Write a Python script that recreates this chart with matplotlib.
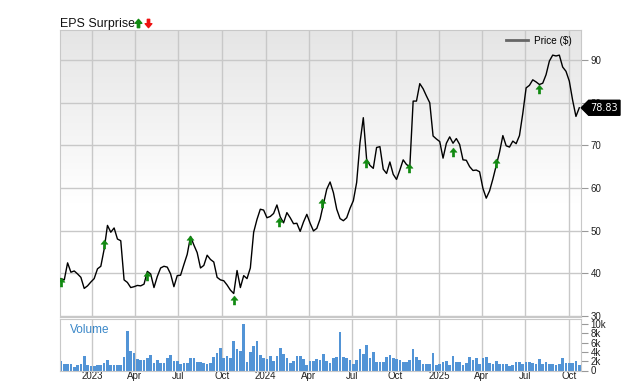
import numpy as np
import pandas as pd
import matplotlib
matplotlib.use('Agg')
import matplotlib.pyplot as plt
from matplotlib.path import Path
from matplotlib.patches import Polygon
from matplotlib.lines import Line2D
from matplotlib.transforms import IdentityTransform

plt.rcParams['font.family'] = ['Liberation Sans', 'DejaVu Sans']

# ---------------- data ----------------
start_date = '2022-10-27'
price = [38.7, 38.4, 42.4, 40.2, 40.5, 39.8, 39.0, 36.4, 37.0, 37.9,
         38.7, 41.0, 41.6, 45.6, 51.2, 49.6, 50.6, 48.0, 47.6, 38.4,
         37.8, 36.6, 36.8, 37.1, 37.0, 37.4, 40.4, 39.8, 36.6, 39.2,
         41.2, 41.6, 41.4, 39.8, 36.8, 39.4, 39.5, 42.0, 44.4, 48.6,
         46.6, 44.8, 41.2, 41.8, 44.2, 43.2, 42.6, 39.0, 38.4, 38.2,
         37.2, 36.0, 35.2, 40.6, 36.6, 39.4, 38.7, 41.2, 49.6, 52.6,
         55.0, 54.8, 53.0, 53.3, 54.0, 56.0, 53.2, 51.8, 54.2, 53.0,
         51.6, 51.7, 49.8, 52.0, 53.8, 51.7, 49.9, 50.5, 52.7, 56.2,
         59.7, 61.4, 58.9, 55.0, 52.8, 52.3, 53.0, 55.2, 57.0, 61.3,
         70.6, 76.5, 66.7, 65.3, 64.6, 69.5, 69.7, 64.4, 63.4, 66.1,
         63.2, 62.0, 64.2, 66.6, 65.5, 65.0, 80.4, 80.4, 84.5, 83.3,
         81.6, 80.0, 72.2, 71.5, 70.9, 67.0, 70.5, 72.0, 70.5, 71.6,
         70.2, 66.6, 66.5, 65.0, 64.1, 64.2, 63.8, 59.9, 57.6, 59.3,
         62.1, 65.2, 68.4, 72.3, 69.9, 69.6, 71.0, 70.4, 72.3, 77.5,
         83.5, 84.1, 85.4, 84.9, 84.3, 84.6, 86.6, 89.8, 91.2, 91.0,
         91.2, 88.4, 87.4, 85.1, 80.6, 76.8, 78.83]
volume_k = [2.0, 1.4, 1.5, 1.5, 0.65, 1.15, 1.4, 3.2, 1.15, 0.9,
            0.9, 1.2, 1.2, 1.65, 2.3, 1.15, 1.15, 1.15, 1.15, 3.0,
            8.6, 4.3, 3.75, 2.45, 2.3, 2.3, 2.8, 3.3, 1.65, 2.2,
            1.6, 1.6, 2.65, 3.4, 2.1, 2.1, 1.3, 1.6, 1.65, 2.65,
            2.8, 1.9, 1.9, 1.7, 1.5, 1.7, 3.0, 3.75, 4.9, 2.65,
            3.15, 2.65, 6.3, 4.6, 4.1, 10.0, 1.9, 4.0, 5.3, 6.4,
            3.3, 2.65, 2.45, 3.15, 2.0, 3.15, 4.8, 3.5, 2.6, 1.7,
            2.0, 3.15, 3.15, 2.45, 1.15, 2.1, 2.1, 2.45, 2.2, 3.5,
            1.95, 1.6, 2.6, 3.0, 8.35, 2.95, 2.6, 2.25, 1.35, 2.3,
            4.6, 3.65, 5.6, 2.6, 4.0, 1.9, 1.9, 1.9, 2.9, 3.3,
            2.6, 2.45, 2.25, 1.75, 1.9, 2.3, 4.6, 2.9, 2.25, 1.5,
            1.5, 1.45, 3.75, 1.2, 1.35, 1.75, 2.1, 1.2, 3.1, 1.75,
            1.75, 1.15, 1.65, 3.0, 2.3, 2.6, 1.35, 2.75, 3.0, 1.6,
            1.45, 1.95, 1.45, 1.45, 1.45, 1.0, 1.15, 1.9, 1.9, 1.45,
            1.9, 1.8, 1.6, 1.45, 2.45, 1.5, 1.8, 1.5, 1.5, 1.2,
            1.3, 2.6, 1.6, 1.6, 1.6, 1.95, 1.15]
earn_dates = ['2022-10-27', '2023-01-25', '2023-04-26', '2023-07-26',
              '2023-10-26', '2024-01-30', '2024-04-30', '2024-07-30',
              '2024-10-30', '2025-01-29', '2025-04-30', '2025-07-30']
earn_levels = [37.9, 46.8, 39.4, 47.7, 33.6, 52.1, 56.5, 65.9, 64.6, 68.5, 65.9, 83.2]
tick_dates = ['2023-01-01', '2023-04-01', '2023-07-01', '2023-10-01',
              '2024-01-01', '2024-04-01', '2024-07-01', '2024-10-01',
              '2025-01-01', '2025-04-01', '2025-07-01', '2025-10-01']
tick_labels = ['2023', 'Apr', 'Jul', 'Oct', '2024', 'Apr', 'Jul', 'Oct',
               '2025', 'Apr', 'Jul', 'Oct']
price_ticks = [30, 40, 50, 60, 70, 80, 90]
vol_ticks = [0, 2, 4, 6, 8, 10]
vol_tick_labels = ['0', '2k', '4k', '6k', '8k', '10k']
last_price = 78.83
x_start, x_end = '2022-10-25', '2025-10-26'

# ---------------- layout ----------------
dates = pd.date_range(start_date, periods=len(price), freq='7D')
W, H = 640, 382
fig = plt.figure(figsize=(W / 100, H / 100), dpi=100)
L, R = 60, 580.7
pt, pb = 30, 316.5
vt, vb = 318.5, 370.5


def rect(top, bottom):
    return [L / W, 1 - bottom / H, (R - L) / W, (bottom - top) / H]


grid_c = '#c8c8c8'
txt_c = '#222222'

# gradient background
bg = fig.add_axes(rect(pt, pb), zorder=0)
t = np.linspace(0, 1, 300)
g = np.clip(0.898 + 0.102 * (t / 0.6), 0, 1)
img = np.stack([g, g, g], axis=-1)[:, None, :].repeat(2, axis=1)
bg.imshow(img, aspect='auto', extent=[0, 1, 0, 1], interpolation='bilinear')
bg.set_xlim(0, 1)
bg.set_ylim(0, 1)
bg.axis('off')

ax = fig.add_axes(rect(pt, pb), zorder=1)
ax.patch.set_alpha(0)
axv = fig.add_axes(rect(vt, vb), zorder=1, sharex=ax)

# price line
ax.plot(dates, price, color='black', lw=1.0, zorder=3)

# earnings arrows
up_verts = [(0, 1), (0.8, 0.05), (0.28, 0.05), (0.28, -1), (-0.28, -1),
            (-0.28, 0.05), (-0.8, 0.05), (0, 1)]
codes = [Path.MOVETO] + [Path.LINETO] * 6 + [Path.CLOSEPOLY]
up_marker = Path(up_verts, codes)
down_marker = Path([(x, -y) for x, y in up_verts], codes)
green = '#118a11'
ax.plot(pd.to_datetime(earn_dates), earn_levels, ls='none', marker=up_marker,
        ms=6.5, color=green, mec=green, mew=0.3, zorder=4)

ax.set_xlim(pd.Timestamp(x_start), pd.Timestamp(x_end))
ax.set_ylim(29.8, 97.1)
ax.set_xticks(pd.to_datetime(tick_dates))
ax.set_yticks(price_ticks)
ax.grid(True, color=grid_c, lw=1)
ax.set_axisbelow(True)
for s in ax.spines.values():
    s.set_color(grid_c)
ax.yaxis.tick_right()
ax.tick_params(axis='y', length=5, color='#999999', labelsize=7, pad=2,
               labelcolor=txt_c)
ax.tick_params(axis='x', bottom=False, labelbottom=False)

# legend
leg = ax.legend(handles=[Line2D([], [], color='#666666', lw=2)], labels=['Price ($)'],
                loc='center right', bbox_to_anchor=(572 / W, 1 - 40.7 / H),
                bbox_transform=fig.transFigure, frameon=False, fontsize=7.2,
                handlelength=2.2, handletextpad=0.6, borderpad=0, borderaxespad=0)

# volume
axv.bar(dates, volume_k, width=5.6, color='#5294d6', zorder=2)
axv.set_ylim(0, 11.2)
axv.set_yticks(vol_ticks)
axv.set_yticklabels(vol_tick_labels)
axv.yaxis.tick_right()
axv.tick_params(axis='y', length=5, color='#999999', labelsize=7, pad=2,
                labelcolor=txt_c)
axv.set_xticks(pd.to_datetime(tick_dates))
axv.set_xticklabels(tick_labels)
axv.tick_params(axis='x', length=0, labelsize=7, pad=0.6, labelcolor=txt_c)
axv.grid(True, axis='x', color=grid_c, lw=1)
axv.set_axisbelow(True)
for s in axv.spines.values():
    s.set_color(grid_c)
axv.set_xlim(pd.Timestamp(x_start), pd.Timestamp(x_end))
fig.text(70 / W, 1 - 330 / H, 'Volume', color='#3a87c8', fontsize=8.5,
         va='center', ha='left')

# title
fig.text(L / W, 1 - 27.3 / H, 'EPS Surprise', fontsize=8.9, va='baseline',
         ha='left', color='#111111')
fig.add_artist(Line2D([138 / W], [1 - 23 / H], marker=up_marker, ms=6, color=green,
                      mec=green, transform=fig.transFigure, ls='none'))
fig.add_artist(Line2D([148 / W], [1 - 23 / H], marker=down_marker, ms=6, color='#ee1111',
                      mec='#ee1111', transform=fig.transFigure, ls='none'))

# last price tag
fig.canvas.draw()
tip_x, tip_y = ax.transData.transform((ax.get_xlim()[1], last_price))
hh = 7.5
poly = Polygon([(tip_x + 0.5, tip_y), (tip_x + 8, tip_y + hh), (620, tip_y + hh),
                (620, tip_y - hh), (tip_x + 8, tip_y - hh)], closed=True,
               facecolor='black', edgecolor='black', transform=IdentityTransform(),
               zorder=10)
fig.add_artist(poly)
fig.text((tip_x + 8 + 620) / 2 / W, tip_y / H, f'{last_price:.2f}', color='white',
         fontsize=7, family='DejaVu Sans', ha='center', va='center', zorder=11)

fig.savefig('out.png', dpi=100)
